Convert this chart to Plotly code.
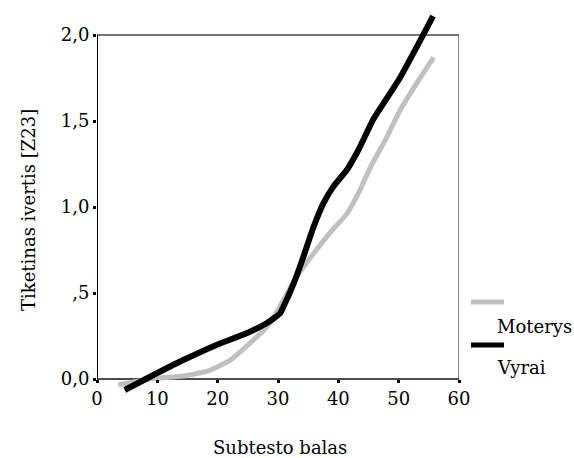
import plotly.graph_objects as go

# Subtesto balas vs. tiketinas ivertis, by sex
moterys_x = [3.5, 8.8, 14.3, 18.7, 22.1, 25.4, 28.1, 29.8, 33.1, 35.9, 38.6, 41.4, 43.6, 45.3, 47.8, 50.2, 53.0, 55.8]
moterys_y = [-0.035, 0.0, 0.017, 0.05, 0.11, 0.21, 0.30, 0.39, 0.595, 0.73, 0.85, 0.96, 1.10, 1.23, 1.39, 1.56, 1.72, 1.87]

vyrai_x = [4.6, 8.8, 14.3, 19.8, 24.8, 28.1, 30.3, 30.9, 32.6, 34.2, 35.9, 37.5, 39.2, 41.4, 43.3, 45.8, 48.0, 50.2, 53.6, 55.7]
vyrai_y = [-0.064, 0.013, 0.11, 0.198, 0.266, 0.324, 0.38, 0.42, 0.556, 0.71, 0.885, 1.02, 1.12, 1.215, 1.33, 1.51, 1.63, 1.75, 1.97, 2.11]

x_ticks = [0, 10, 20, 30, 40, 50, 60]
y_ticks = [0.0, 0.5, 1.0, 1.5, 2.0]
y_tick_labels = ["0,0", ",5", "1,0", "1,5", "2,0"]

series_names = ["Moterys", "Vyrai"]
series_colors = ["#c0c0c0", "#000000"]

FONT = "DejaVu Serif"

# pixel geometry of the plotting area
W, H = 574, 458
ML, MR, MT, MB = 97, 115, 9, 62
PW, PH = W - ML - MR, H - MT - MB
Y0_PX = 379                     # pixel row of y = 0
PX_PER_UNIT = (Y0_PX - 35) / 2.0
y_lo = -(H - MB - Y0_PX) / PX_PER_UNIT
y_hi = y_lo + PH / PX_PER_UNIT


def px(xp):
    return (xp - ML) / PW


def py(yp):
    return (H - MB - yp) / PH


fig = go.Figure()
fig.add_trace(go.Scatter(x=moterys_x, y=moterys_y, mode="lines", name=series_names[0],
                         line=dict(color=series_colors[0], width=5, shape="spline", smoothing=0.5),
                         showlegend=False))
fig.add_trace(go.Scatter(x=vyrai_x, y=vyrai_y, mode="lines", name=series_names[1],
                         line=dict(color=series_colors[1], width=6, shape="spline", smoothing=0.5),
                         showlegend=False))

# frame around the 0..60 x 0..2 region
frame = [
    dict(x0=0, y0=2, x1=60, y1=2, line=dict(color="#4a4a4a", width=1.5)),
    dict(x0=60, y0=0, x1=60, y1=2, line=dict(color="#333333", width=1.2)),
    dict(x0=0, y0=0, x1=60, y1=0, line=dict(color="#111111", width=1.5)),
    dict(x0=0, y0=0, x1=0, y1=2, line=dict(color="#000000", width=2)),
]
shapes = [dict(type="line", xref="x", yref="y", layer="below", **f) for f in frame]

# legend swatches
for name, color, yp in [(series_names[0], series_colors[0], 302), (series_names[1], series_colors[1], 345)]:
    shapes.append(dict(type="line", xref="paper", yref="paper", x0=px(471), x1=px(504),
                       y0=py(yp), y1=py(yp), line=dict(color=color, width=5)))

annotations = [
    dict(text="Moterys", x=px(495), y=py(326), xref="paper", yref="paper", showarrow=False,
         xanchor="left", yanchor="middle", font=dict(family=FONT, size=18, color="#000")),
    dict(text="Vyrai", x=px(495), y=py(367), xref="paper", yref="paper", showarrow=False,
         xanchor="left", yanchor="middle", font=dict(family=FONT, size=18, color="#000")),
    dict(text="Subtesto balas", x=px(280), y=py(447), xref="paper", yref="paper", showarrow=False,
         xanchor="center", yanchor="middle", font=dict(family=FONT, size=18, color="#000")),
    dict(text="Tiketinas ivertis [Z23]", x=px(28), y=py(210), xref="paper", yref="paper",
         showarrow=False, textangle=-90, xanchor="center", yanchor="middle",
         font=dict(family=FONT, size=18, color="#000")),
]

fig.update_layout(
    width=W, height=H,
    margin=dict(l=ML, r=MR, t=MT, b=MB, pad=0),
    paper_bgcolor="white", plot_bgcolor="white",
    font=dict(family=FONT, size=18, color="#000"),
    shapes=shapes, annotations=annotations,
    xaxis=dict(range=[0, 60], tickvals=x_ticks, ticks="outside", ticklen=3, tickwidth=3,
               tickcolor="#000", showgrid=False, zeroline=False, showline=False,
               anchor="free", position=py(Y0_PX), tickfont=dict(family=FONT, size=18)),
    yaxis=dict(range=[y_lo, y_hi], tickvals=y_ticks, ticktext=y_tick_labels, ticks="outside",
               ticklen=3, tickwidth=3, tickcolor="#000", showgrid=False, zeroline=False,
               showline=False, tickfont=dict(family=FONT, size=18)),
)

fig.write_html("out.html")
